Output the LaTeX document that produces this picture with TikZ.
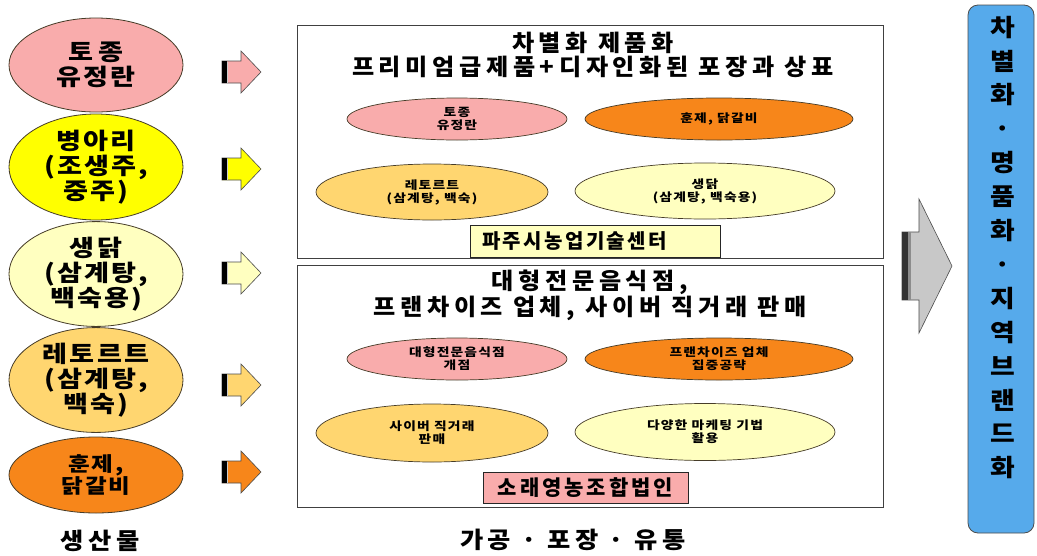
\documentclass[tikz,border=0pt]{standalone}
\usepackage{fontspec}
\setmainfont{Noto Sans CJK KR}
\newfontfamily\krE{Noto Sans CJK KR}[LetterSpace=9, FakeStretch=1.18]
\newfontfamily\krS{Noto Sans CJK KR}[LetterSpace=10, FakeStretch=1.2]
\newfontfamily\krT{Noto Sans CJK KR}[LetterSpace=20, FakeStretch=1.05]
\newfontfamily\krL{Noto Sans CJK KR}[LetterSpace=12]
\newfontfamily\krM{Noto Sans CJK KR}[LetterSpace=14]
\newfontfamily\krB{Noto Sans CJK KR}[LetterSpace=20, FakeStretch=1.1]
\newfontfamily\krR{Noto Sans CJK KR}[FakeStretch=1.12]
\usetikzlibrary{shapes.geometric}
\definecolor{cpink}{RGB}{249,172,172}
\definecolor{cyel}{RGB}{255,255,0}
\definecolor{cpale}{RGB}{255,255,192}
\definecolor{clor}{RGB}{255,214,112}
\definecolor{corg}{RGB}{247,134,26}
\definecolor{cblue}{RGB}{86,170,235}
\definecolor{cgray}{RGB}{200,200,200}
\definecolor{cline}{RGB}{70,60,40}
\tikzset{
  big/.style={ellipse, draw=cline, line width=0.8pt, inner sep=0pt, align=center,
    font=\krE\bfseries\fontsize{23}{25}\selectfont},
  small/.style={ellipse, draw=cline, line width=0.7pt, inner sep=0pt, align=center,
    font=\krS\bfseries\fontsize{11.5}{13}\selectfont},
  frame/.style={draw=black!75, line width=0.9pt, inner sep=0pt},
  labelbox/.style={draw=black!85, line width=0.9pt, inner sep=0pt},
  title/.style={align=center, inner sep=0pt, font=\krT\bfseries\fontsize{23}{24}\selectfont},
  bottom/.style={inner sep=0pt, font=\krB\bfseries\fontsize{23}{25}\selectfont},
  arr/.style={draw=black!70, line width=0.6pt}
}
\newcommand\smallarr[2]{%
  \draw[arr, fill=#2] (222,#1-11) -- (241,#1-11) -- (241,#1-21) -- (261,#1) -- (241,#1+21) -- (241,#1+11) -- (222,#1+11) -- cycle;
  \fill[black] (222,#1-11) rectangle (226.5,#1+11);
  \draw[white!80!black, line width=0.8pt] (227.6,#1-10.5) -- (227.6,#1+10.5);
}
\begin{document}
\begin{tikzpicture}[x=1pt,y=-1pt]
\useasboundingbox[fill=white] (0,0) rectangle (1037,555);
% left column
\node[big, fill=cpink, minimum width=174pt, minimum height=94pt] (e1) at (96,65) {토\hspace{6pt}종\\유정란};
\node[big, fill=cyel, minimum width=174pt, minimum height=106pt] (e2) at (96,167) {병아리\\(조생주,\\중주)};
\node[big, fill=cpale, minimum width=174pt, minimum height=104pt] (e3) at (96,274) {생닭\\(삼계탕,\\백숙용)};
\node[big, fill=clor, minimum width=174pt, minimum height=104pt] (e4) at (96,380) {레토르트\\(삼계탕,\\백숙)};
\node[big, fill=corg, minimum width=174pt, minimum height=76pt, font=\krE\bfseries\fontsize{20}{20}\selectfont] (e5) at (96,475) {훈제,\\닭갈비};
\node[bottom] (lp) at (100,541) {생산물};
% small arrows
\smallarr{72}{cpink}
\smallarr{169}{cyel}
\smallarr{273}{cpale}
\smallarr{385}{clor}
\smallarr{472}{corg}
% box 1
\node[frame, minimum width=586pt, minimum height=233pt] (b1) at (590,141.5) {};
\node[title] (t1) at (593,55) {차별화 제품화\\프리미엄급제품+디자인화된 포장과 상표};
\node[small, fill=cpink, minimum width=220pt, minimum height=42pt] (i1) at (457,119) {토종\\유정란};
\node[small, fill=corg, minimum width=268pt, minimum height=42pt] (i2) at (719,119) {훈제, 닭갈비};
\node[small, fill=clor, minimum width=232pt, minimum height=56pt] (i3) at (432,192) {레토르트\\(삼계탕, 백숙)};
\node[small, fill=cpale, minimum width=260pt, minimum height=56pt] (i4) at (705,191) {생닭\\(삼계탕, 백숙용)};
\node[labelbox, fill=cpale, minimum width=250pt, minimum height=32pt, font=\krL\bfseries\fontsize{20}{22}\selectfont] (l1) at (595,241) {\makebox[250pt][l]{\hspace{12pt}파주시농업기술센터}};
% box 2
\node[frame, minimum width=586pt, minimum height=242pt] (b2) at (590,386) {};
\node[title] (t2) at (590,295) {대형전문음식점,\\프랜차이즈 업체, 사이버 직거래 판매};
\node[small, fill=cpink, minimum width=220pt, minimum height=42pt] (j1) at (457,359) {대형전문음식점\\개점};
\node[small, fill=corg, minimum width=268pt, minimum height=42pt] (j2) at (719,359) {프랜차이즈 업체\\집중공략};
\node[small, fill=clor, minimum width=232pt, minimum height=58pt] (j3) at (432,433) {사이버 직거래\\판매};
\node[small, fill=cpale, minimum width=260pt, minimum height=57pt] (j4) at (705,432) {다양한 마케팅 기법\\활용};
\node[labelbox, fill=cpink, minimum width=205pt, minimum height=31pt, font=\krM\bfseries\fontsize{21}{22}\selectfont] (l2) at (585.5,487.5) {소래영농조합법인};
\node[bottom] (lm) at (573,540) {가공 · 포장 · 유통};
% big arrow
\draw[arr, fill=cgray] (902,232) -- (919,232) -- (919,199) -- (952,266) -- (919,333) -- (919,300) -- (902,300) -- cycle;
\fill[black!80] (902,232) rectangle (908,300);
\fill[black!45] (908,232) rectangle (910.5,300);
% result box
\node[draw=black!70, line width=0.8pt, fill=cblue, rounded corners=10pt, minimum width=66pt, minimum height=528pt, inner sep=0pt] (res) at (1001,269) {};
\node[align=center, inner sep=0pt, font=\krR\bfseries\fontsize{24}{33.9}\selectfont] (rt) at (1003,247.5) {차\\별\\화\\·\\명\\품\\화\\·\\지\\역\\브\\랜\\드\\화};
\end{tikzpicture}
\end{document}
